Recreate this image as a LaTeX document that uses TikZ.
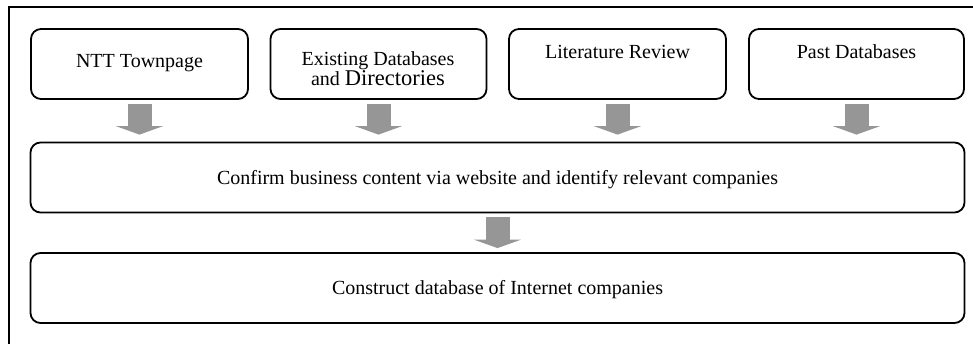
\documentclass[tikz,border=0pt]{standalone}
\usepackage{fontspec}
\setmainfont{Liberation Serif}
\usetikzlibrary{arrows.meta}
\definecolor{arrowgray}{RGB}{150,150,150}
\tikzset{
  box/.style={draw=black, line width=1.8pt, rounded corners=10pt, inner sep=0pt, fill=white},
  txt/.style={inner sep=0pt, font=\fontsize{20}{22}\selectfont},
  bigarrow/.style={draw=arrowgray, line width=24pt, -{Triangle[width=47pt,length=8.5pt]}},
  frame/.style={draw=black, line width=1.4pt}
}
\begin{document}
\begin{tikzpicture}[x=1pt,y=-1pt]
\useasboundingbox (0,0) rectangle (973,343);
\fill[white] (0,0) rectangle (973,343);
% outer frame (open at right and bottom)
\draw[frame] (975,7) -- (9,7) -- (9,345);
% top boxes
\node[box, minimum width=217pt, minimum height=70pt] (b1) at (139.5,64) {};
\node[box, minimum width=216pt, minimum height=70pt] (b2) at (378.5,64) {};
\node[box, minimum width=217pt, minimum height=70pt] (b3) at (617.5,64) {};
\node[box, minimum width=215pt, minimum height=70pt] (b4) at (856.5,64) {};
% middle and bottom boxes
\node[box, minimum width=934pt, minimum height=70pt] (m) at (497.5,177.5) {};
\node[box, minimum width=934pt, minimum height=70pt] (c) at (497.5,288) {};
% texts
\node[txt] (t1) at (139.5,63) {NTT Townpage};
\node[txt, align=center] (t2) at (378,69)
  {Existing Databases\\[-2pt]and {\fontsize{22.5}{22}\selectfont Directories}};
\node[txt] (t3) at (617.5,52) {Literature Review};
\node[txt] (t4) at (856.5,52) {Past Databases};
\node[txt] (tm) at (497.5,180) {Confirm business content via website and identify relevant companies};
\node[txt] (tc) at (497.5,290) {Construct database of Internet companies};
% arrows
\foreach \b in {b1,b2,b3,b4}{
  \draw[bigarrow] ([yshift=-4pt]\b.south) -- ([yshift=7pt]m.north -| \b.south);
}
\draw[bigarrow] ([yshift=-4pt]m.south) -- ([yshift=4pt]c.north);
\end{tikzpicture}
\end{document}
